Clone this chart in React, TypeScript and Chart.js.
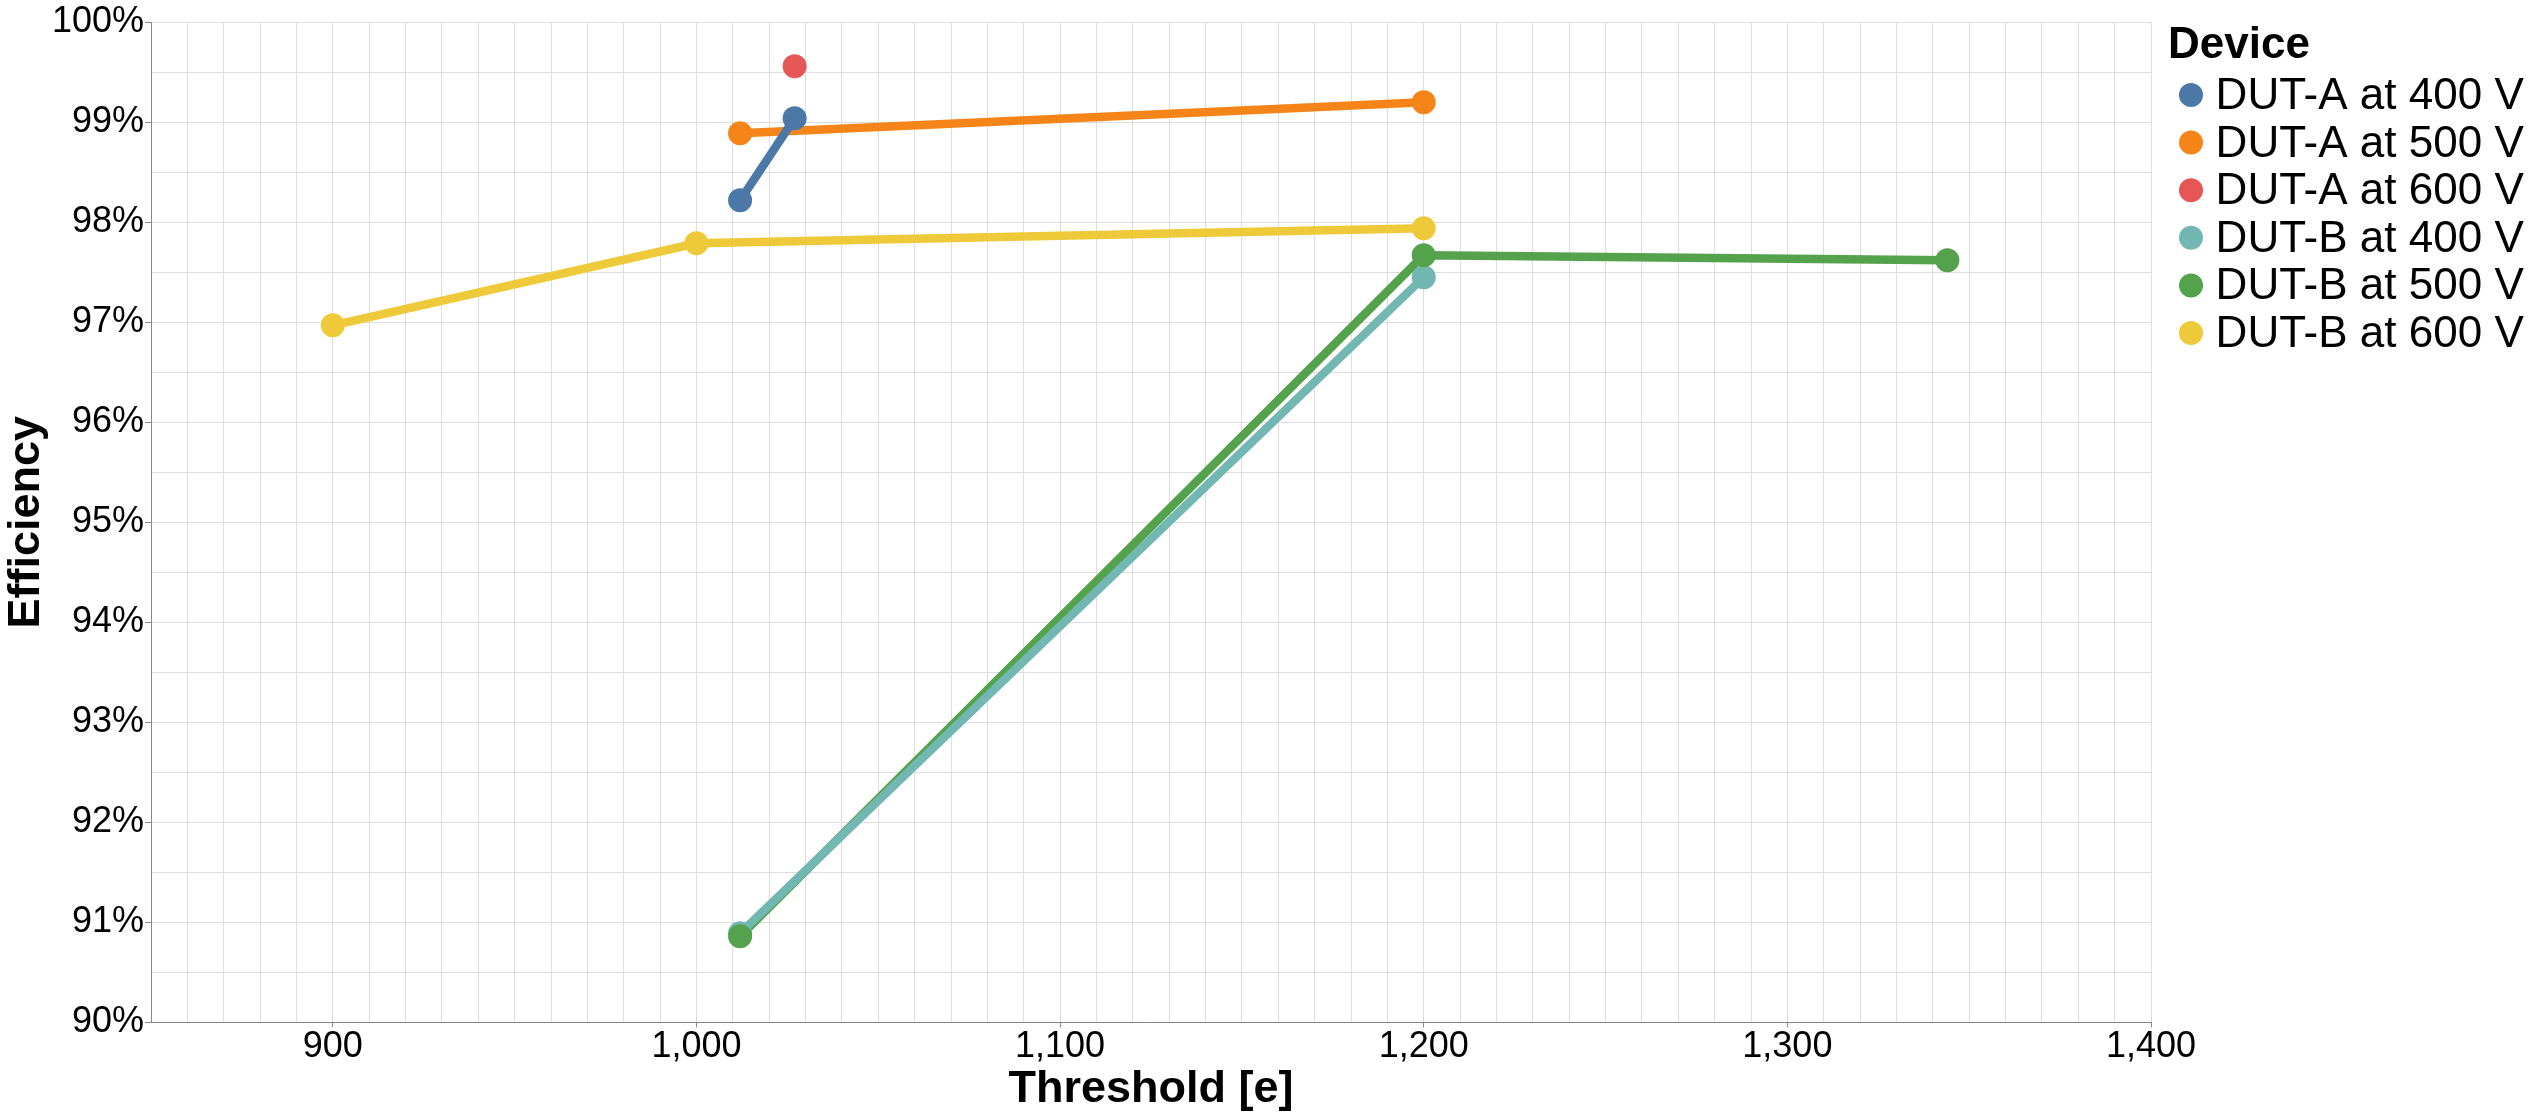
import React, { useEffect, useRef } from 'react';
import Chart from 'chart.js/auto';

const FONT = '"Liberation Sans", Arial, Helvetica, sans-serif';

const SERIES_LABELS = [
  'DUT-A at 400 V',
  'DUT-A at 500 V',
  'DUT-A at 600 V',
  'DUT-B at 400 V',
  'DUT-B at 500 V',
  'DUT-B at 600 V',
];
const SERIES_COLORS = ['#4c78a8', '#f58518', '#e45756', '#72b7b2', '#54a24b', '#eeca3b'];

// threshold [e] / efficiency [%] per device and bias voltage
const A400_THRESHOLD = [1012, 1027];
const A400_EFFICIENCY = [98.22, 99.04];
const A500_THRESHOLD = [1012, 1200];
const A500_EFFICIENCY = [98.89, 99.2];
const A600_THRESHOLD = [1027];
const A600_EFFICIENCY = [99.56];
const B400_THRESHOLD = [1012, 1200];
const B400_EFFICIENCY = [90.89, 97.45];
const B500_THRESHOLD = [1012, 1200, 1344];
const B500_EFFICIENCY = [90.86, 97.67, 97.62];
const B600_THRESHOLD = [900, 1000, 1200];
const B600_EFFICIENCY = [96.97, 97.79, 97.94];

const THRESHOLDS = [A400_THRESHOLD, A500_THRESHOLD, A600_THRESHOLD, B400_THRESHOLD, B500_THRESHOLD, B600_THRESHOLD];
const EFFICIENCIES = [A400_EFFICIENCY, A500_EFFICIENCY, A600_EFFICIENCY, B400_EFFICIENCY, B500_EFFICIENCY, B600_EFFICIENCY];

const X_MAJOR_TICKS = [900, 1000, 1100, 1200, 1300, 1400];
const Y_MAJOR_TICKS = [90, 91, 92, 93, 94, 95, 96, 97, 98, 99, 100];

const LEGEND_TITLE = 'Device';

const toPoints = (i) => THRESHOLDS[i].map((x, j) => ({ x, y: EFFICIENCIES[i][j] }));

// legend drawn beside the plot, title flush left of the symbols
const deviceLegend = {
  id: 'deviceLegend',
  afterDraw(chart) {
    const { ctx, chartArea } = chart;
    const x0 = chartArea.right;
    const y0 = chartArea.top;
    ctx.save();
    ctx.textAlign = 'left';
    ctx.textBaseline = 'alphabetic';
    ctx.fillStyle = '#000';
    ctx.font = `bold 44px ${FONT}`;
    ctx.fillText(LEGEND_TITLE, x0 + 17, y0 + 35.4);
    ctx.font = `44px ${FONT}`;
    SERIES_LABELS.forEach((label, i) => {
      const y = y0 + 72.7 + i * 47.6;
      ctx.beginPath();
      ctx.fillStyle = SERIES_COLORS[i];
      ctx.arc(x0 + 40, y, 12, 0, Math.PI * 2);
      ctx.fill();
      ctx.fillStyle = '#000';
      ctx.fillText(label, x0 + 64.6, y + 14);
    });
    ctx.restore();
  },
};

const App = () => {
  const chartRef = useRef(null);
  const chartInstance = useRef(null);

  useEffect(() => {
    if (chartInstance.current) {
      chartInstance.current.destroy();
    }

    const lineSets = SERIES_LABELS.map((label, i) => ({
      label,
      data: toPoints(i),
      borderColor: SERIES_COLORS[i],
      backgroundColor: SERIES_COLORS[i],
      borderWidth: 8.5,
      pointRadius: 0,
      pointHoverRadius: 0,
      showLine: true,
      order: 11 + i,
    }));
    const pointSets = SERIES_LABELS.map((label, i) => ({
      label,
      data: toPoints(i),
      borderColor: SERIES_COLORS[i],
      backgroundColor: SERIES_COLORS[i],
      borderWidth: 0,
      pointRadius: 12,
      pointHoverRadius: 12,
      pointBorderWidth: 0,
      showLine: false,
      order: 5 - i,
    }));

    const ctx = chartRef.current.getContext('2d');

    chartInstance.current = new Chart(ctx, {
      type: 'line',
      data: { datasets: [...lineSets, ...pointSets] },
      options: {
        animation: false,
        responsive: true,
        maintainAspectRatio: false,
        layout: { padding: { top: 22.3, right: 388, bottom: 0, left: 0 } },
        plugins: {
          legend: { display: false },
          tooltip: { enabled: false },
        },
        scales: {
          x: {
            type: 'linear',
            min: 850,
            max: 1400,
            afterFit: (scale) => {
              scale.height = 95.7;
            },
            ticks: {
              stepSize: 10,
              autoSkip: false,
              maxRotation: 0,
              padding: 1.5,
              color: '#000',
              font: { family: FONT, size: 36, lineHeight: 1 },
              callback: (value) => (X_MAJOR_TICKS.includes(value) ? value.toLocaleString('en-US') : ''),
            },
            grid: {
              color: '#dddddd',
              lineWidth: 1,
              tickLength: 5,
              tickColor: (c) => (c.tick && X_MAJOR_TICKS.includes(c.tick.value) ? '#888888' : 'rgba(0,0,0,0)'),
            },
            border: { color: '#888888', width: 1 },
            title: {
              display: true,
              text: 'Threshold [e]',
              color: '#000',
              font: { family: FONT, size: 45, weight: 'bold' },
              padding: { top: 0, bottom: 1.6 },
            },
          },
          y: {
            min: 90,
            max: 100,
            afterFit: (scale) => {
              scale.width = 151;
            },
            ticks: {
              stepSize: 0.5,
              autoSkip: false,
              padding: 1,
              color: '#000',
              font: { family: FONT, size: 36, lineHeight: 1 },
              callback: (value) => (Y_MAJOR_TICKS.includes(value) ? `${value}%` : ''),
            },
            grid: {
              color: '#dddddd',
              lineWidth: 1,
              tickLength: 6,
              tickColor: (c) => (c.tick && Y_MAJOR_TICKS.includes(c.tick.value) ? '#888888' : 'rgba(0,0,0,0)'),
            },
            border: { color: '#888888', width: 1 },
            title: {
              display: true,
              text: 'Efficiency',
              color: '#000',
              font: { family: FONT, size: 45, weight: 'bold' },
              padding: { top: 0, bottom: 0 },
            },
          },
        },
      },
      plugins: [deviceLegend],
    });

    return () => {
      if (chartInstance.current) {
        chartInstance.current.destroy();
        chartInstance.current = null;
      }
    };
  }, []);

  return (
    <div style={{ position: 'fixed', left: 0, top: 0, width: '100vw', height: '100vh', background: '#fff' }}>
      <canvas ref={chartRef}></canvas>
    </div>
  );
};

export default App;
